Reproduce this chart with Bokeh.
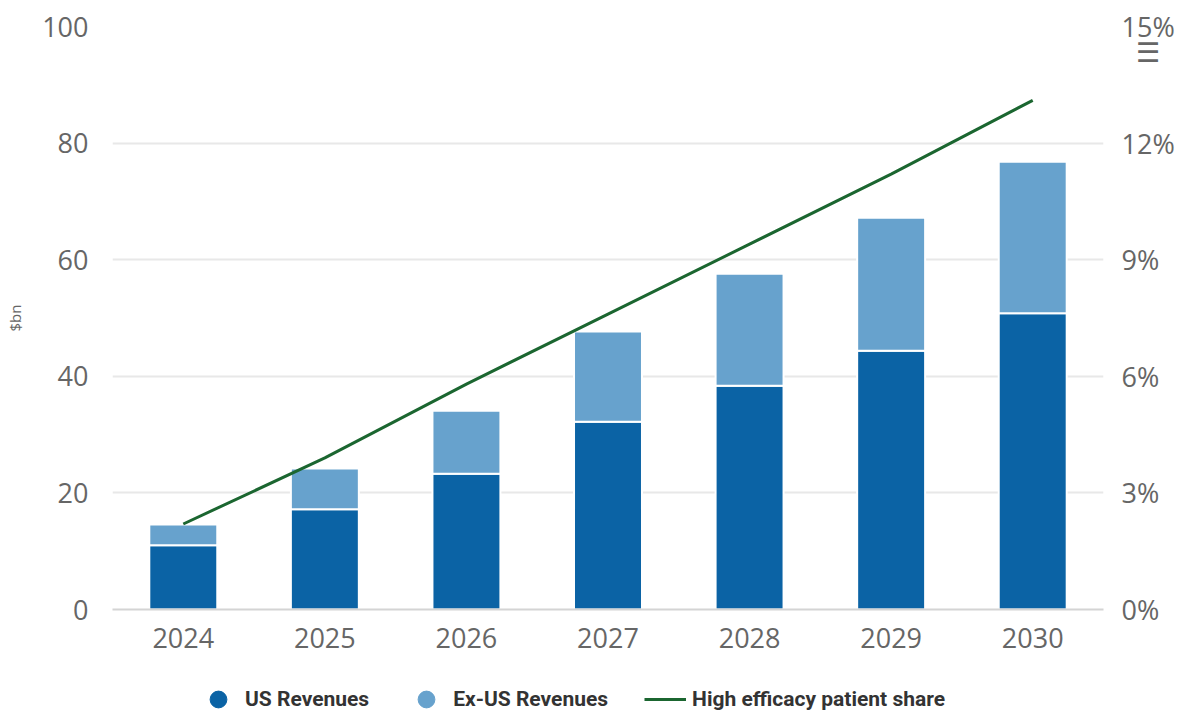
from bokeh.plotting import figure
from bokeh.layouts import column
from bokeh.models import (Range1d, LinearAxis, FixedTicker, Legend, LegendItem,
                          ColumnDataSource, FactorRange)
from bokeh.embed import file_html
from bokeh.resources import INLINE

years = ["2024", "2025", "2026", "2027", "2028", "2029", "2030"]
us_revenues = [11.0, 17.2, 23.3, 32.2, 38.4, 44.4, 50.8]
ex_us_revenues = [3.6, 7.0, 10.8, 15.5, 19.2, 22.8, 26.0]
patient_share = [2.2, 3.9, 5.8, 7.6, 9.4, 11.2, 13.1]
left_ticks = [0, 20, 40, 60, 80, 100]
right_ticks = [0, 3, 6, 9, 12, 15]
right_labels = ["0%", "3%", "6%", "9%", "12%", "15%"]

US_COL = "#0b63a5"
EX_COL = "#67a2cd"
LINE_COL = "#1b6630"
TICK_COL = "#666666"
FONT = "Open Sans"

nan = float("nan")
src = ColumnDataSource(dict(year=years, us=us_revenues, ex=ex_us_revenues, share=patient_share,
                            hidden=[nan] * len(years)))

p = figure(x_range=FactorRange(*years), y_range=Range1d(0, 100),
           width=1182, height=674, output_backend="svg", toolbar_location=None,
           min_border_left=112, min_border_right=79, min_border_top=26, min_border_bottom=65)
p.extra_y_ranges = {"pct": Range1d(0, 15)}
p.x_range.range_padding = 0
p.outline_line_color = None

bars = p.vbar_stack(["us", "ex"], x="year", width=0.48, source=src,
                    color=[US_COL, EX_COL], line_color="white", line_width=2)

line = p.line(x="year", y="share", source=src, y_range_name="pct",
              line_color=LINE_COL, line_width=3)

p.yaxis.ticker = FixedTicker(ticks=left_ticks)
p.yaxis.axis_line_color = None
p.yaxis.major_tick_line_color = None
p.yaxis.minor_tick_line_color = None
p.yaxis.major_label_text_font = FONT
p.yaxis.major_label_text_font_size = "27px"
p.yaxis.major_label_text_color = TICK_COL
p.yaxis.major_label_standoff = 18
p.yaxis.axis_label = "$bn"
p.yaxis.axis_label_text_font = FONT
p.yaxis.axis_label_text_font_size = "15px"
p.yaxis.axis_label_text_font_style = "normal"
p.yaxis.axis_label_text_color = TICK_COL
p.yaxis.axis_label_standoff = 14

# right axis: percentage ticks plus the export-menu glyph just under "15%"
menu_pos = 14.35
ry = LinearAxis(y_range_name="pct", ticker=FixedTicker(ticks=right_ticks + [menu_pos]))
overrides = {t: lab for t, lab in zip(right_ticks, right_labels)}
overrides[menu_pos] = "\u00a0\u00a0\u2630"
ry.major_label_overrides = overrides
ry.axis_line_color = None
ry.major_tick_line_color = None
ry.minor_tick_line_color = None
ry.major_label_text_font = FONT
ry.major_label_text_font_size = "27px"
ry.major_label_text_color = TICK_COL
ry.major_label_standoff = 12
p.add_layout(ry, "right")

p.xaxis.axis_line_color = "#d4d4d4"
p.xaxis.axis_line_width = 2
p.xaxis.major_tick_line_color = None
p.xaxis.minor_tick_line_color = None
p.xaxis.major_label_text_font = FONT
p.xaxis.major_label_text_font_size = "27px"
p.xaxis.major_label_text_color = TICK_COL
p.xaxis.major_label_standoff = 12

p.xgrid.grid_line_color = None
p.ygrid.grid_line_color = "#e8e8e8"
p.ygrid.grid_line_width = 2

# separate strip for the legend underneath the chart
lg = figure(x_range=FactorRange(*years), y_range=Range1d(0, 1), width=1182, height=46,
            output_backend="svg", toolbar_location=None,
            min_border_left=0, min_border_right=0, min_border_top=0, min_border_bottom=0)
lg.axis.visible = False
lg.grid.visible = False
lg.outline_line_color = None
r1 = lg.scatter(x="year", y="hidden", source=src, marker="circle", size=21,
                fill_color=US_COL, line_color=US_COL)
r2 = lg.scatter(x="year", y="hidden", source=src, marker="circle", size=21,
                fill_color=EX_COL, line_color=EX_COL)
r3 = lg.line(x="year", y="hidden", source=src, line_color=LINE_COL, line_width=3)

legend = Legend(items=[
    LegendItem(label="US Revenues", renderers=[r1]),
    LegendItem(label="Ex-US Revenues", renderers=[r2]),
    LegendItem(label="High efficacy patient share", renderers=[r3]),
], orientation="horizontal", location=(85, 0))
legend.label_text_font = "Roboto"
legend.label_text_font_style = "bold"
legend.label_text_font_size = "21px"
legend.label_text_color = "#333333"
legend.glyph_width = 42
legend.glyph_height = 42
legend.label_standoff = 6
legend.spacing = 36
legend.border_line_color = None
legend.background_fill_alpha = 0
legend.margin = 0
legend.padding = 2
lg.add_layout(legend, "center")

layout = column(p, lg, spacing=0)
open("out.html", "w").write(file_html(layout, INLINE))
